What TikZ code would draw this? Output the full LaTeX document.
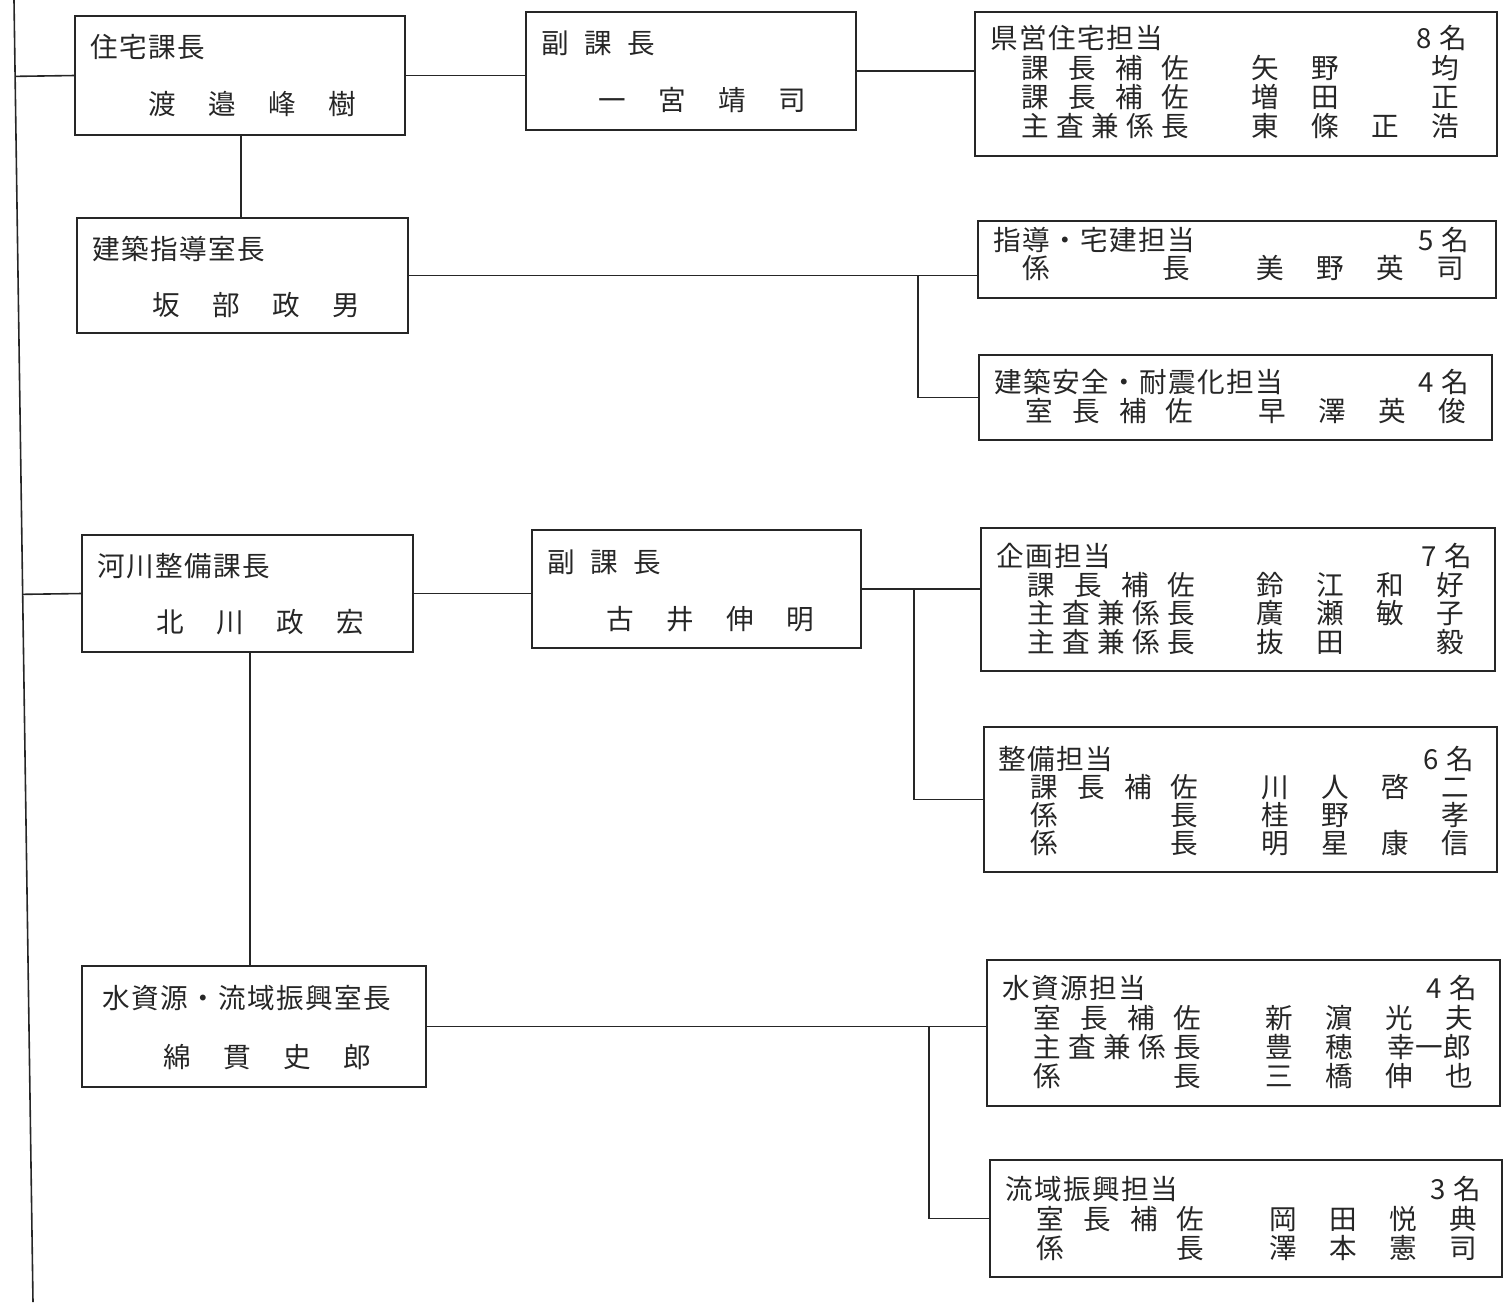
\documentclass[tikz,border=0pt]{standalone}
\usepackage{fontspec}
\usetikzlibrary{calc}
\newfontfamily\jp{Noto Sans CJK JP}
\newcommand\spr[2]{\makebox[#1][s]{#2}}
\newcommand\nmx[4]{\makebox[30pt]{#1}\makebox[30pt]{#2}\makebox[30pt]{#3}\makebox[30pt]{#4}}
\newcommand\cn[1]{#1\hspace{4pt}名}
\begin{document}
\begin{tikzpicture}[x=0.5pt,y=-0.5pt,
  box/.style={draw=black!85,line width=1pt,inner sep=0,outer sep=0},
  link/.style={draw=black!85,line width=0.8pt},
  txt/.style={inner sep=0,anchor=west,font={\jp\fontsize{13.8pt}{16pt}\selectfont},text=black!85},
  ttl/.style={txt,font={\jp\fontsize{13.8pt}{16pt}\selectfont\addfontfeature{LetterSpace=5}}},
  cnt/.style={txt,anchor=east}]
\useasboundingbox (0,0) rectangle (1505,1302);
% boxes
\node[box,minimum width=165pt,minimum height=59.5pt] (b1) at (240,75.5) {};
\node[box,minimum width=165pt,minimum height=59pt] (b2) at (691,71) {};
\node[box,minimum width=261pt,minimum height=72pt] (b3) at (1236,84) {};
\node[box,minimum width=165.5pt,minimum height=57.5pt] (b4) at (242.5,275.5) {};
\node[box,minimum width=259pt,minimum height=38.5pt] (b5) at (1237,259.5) {};
\node[box,minimum width=256.5pt,minimum height=42.5pt] (b6) at (1235.5,397.5) {};
\node[box,minimum width=165.5pt,minimum height=58.5pt] (b7) at (247.5,593.5) {};
\node[box,minimum width=164.5pt,minimum height=59pt] (b8) at (696.5,589) {};
\node[box,minimum width=257pt,minimum height=71.5pt] (b9) at (1238,599.5) {};
\node[box,minimum width=256.5pt,minimum height=72.5pt] (b10) at (1240.5,799.5) {};
\node[box,minimum width=172pt,minimum height=60.5pt] (b11) at (254,1026.5) {};
\node[box,minimum width=256.5pt,minimum height=73pt] (b12) at (1243.5,1033) {};
\node[box,minimum width=256pt,minimum height=58.5pt] (b13) at (1246,1218.5) {};
% connectors
\coordinate (t0) at (14,0);
\coordinate (t1) at (33,1302);
\draw[link] (t0) -- (t1);
\draw[link] (b1.west) -- ($(t0)!(b1.west)!(t1)$);
\draw[link] (b7.west) -- ($(t0)!(b7.west)!(t1)$);
\draw[link] (b1.east) -- (b1.east -| b2.west);
\draw[link] (b2.east) -- (b2.east -| b3.west);
\coordinate (v1) at (241,0);
\draw[link] (v1 |- b1.south) -- (v1 |- b4.north);
\draw[link] (b4.east) -- (b4.east -| b5.west);
\coordinate (j1) at (918,0);
\draw[link] (j1 |- b4.east) -- (j1 |- b6.west) -- (b6.west);
\draw[link] (b7.east) -- (b7.east -| b8.west);
\draw[link] (b8.east) -- (b8.east -| b9.west);
\coordinate (j2) at (914,0);
\draw[link] (j2 |- b8.east) -- (j2 |- b10.west) -- (b10.west);
\coordinate (v2) at (250,0);
\draw[link] (v2 |- b7.south) -- (v2 |- b11.north);
\draw[link] (b11.east) -- (b11.east -| b12.west);
\coordinate (j3) at (929,0);
\draw[link] (j3 |- b11.east) -- (j3 |- b13.west) -- (b13.west);
% left column texts
\node[ttl] (b1t) at (90,47) {住宅課長};
\node[txt] (b1n) at (132,104) {\nmx{渡}{邉}{峰}{樹}};
\node[txt] (b2t) at (541,43) {\spr{57pt}{副\hfill 課\hfill 長}};
\node[txt] (b2n) at (582,100) {\nmx{一}{宮}{靖}{司}};
\node[ttl] (b4t) at (92,249) {建築指導室長};
\node[txt] (b4n) at (136,305) {\nmx{坂}{部}{政}{男}};
\node[ttl] (b7t) at (97,566) {河川整備課長};
\node[txt] (b7n) at (140,622) {\nmx{北}{川}{政}{宏}};
\node[txt] (b8t) at (547,562) {\spr{57pt}{副\hfill 課\hfill 長}};
\node[txt] (b8n) at (590,619) {\nmx{古}{井}{伸}{明}};
\node[ttl] (b11t) at (102,998) {水資源・流域振興室長};
\node[txt] (b11n) at (147,1057) {\nmx{綿}{貫}{史}{郎}};
% box 3
\node[ttl] (b3t) at (990,38) {県営住宅担当};
\node[cnt] (b3c) at (1468,38) {\cn{8}};
\node[txt] (b3p1) at (1021,68) {\spr{84pt}{課\hfill 長\hfill 補\hfill 佐}};
\node[txt] (b3n1) at (1235,68) {\nmx{矢}{野}{}{均}};
\node[txt] (b3p2) at (1021,97) {\spr{84pt}{課\hfill 長\hfill 補\hfill 佐}};
\node[txt] (b3n2) at (1235,97) {\nmx{増}{田}{}{正}};
\node[txt] (b3p3) at (1021,126) {\spr{84pt}{主\hfill 査\hfill 兼\hfill 係\hfill 長}};
\node[txt] (b3n3) at (1235,126) {\nmx{東}{條}{正}{浩}};
% box 5
\node[ttl] (b5t) at (993,240) {指導・宅建担当};
\node[cnt] (b5c) at (1470,240) {\cn{5}};
\node[txt] (b5p1) at (1022,268) {\spr{84pt}{係\hfill 長}};
\node[txt] (b5n1) at (1240,268) {\nmx{美}{野}{英}{司}};
% box 6
\node[ttl] (b6t) at (994,382) {建築安全・耐震化担当};
\node[cnt] (b6c) at (1470,382) {\cn{4}};
\node[txt] (b6p1) at (1025,411) {\spr{84pt}{室\hfill 長\hfill 補\hfill 佐}};
\node[txt] (b6n1) at (1242,411) {\nmx{早}{澤}{英}{俊}};
% box 9
\node[ttl] (b9t) at (996,556) {企画担当};
\node[cnt] (b9c) at (1473,556) {\cn{7}};
\node[txt] (b9p1) at (1027,585) {\spr{84pt}{課\hfill 長\hfill 補\hfill 佐}};
\node[txt] (b9n1) at (1240,585) {\nmx{鈴}{江}{和}{好}};
\node[txt] (b9p2) at (1027,613) {\spr{84pt}{主\hfill 査\hfill 兼\hfill 係\hfill 長}};
\node[txt] (b9n2) at (1240,613) {\nmx{廣}{瀬}{敏}{子}};
\node[txt] (b9p3) at (1027,642) {\spr{84pt}{主\hfill 査\hfill 兼\hfill 係\hfill 長}};
\node[txt] (b9n3) at (1240,642) {\nmx{抜}{田}{}{毅}};
% box 10
\node[ttl] (b10t) at (998,759) {整備担当};
\node[cnt] (b10c) at (1475,759) {\cn{6}};
\node[txt] (b10p1) at (1030,787) {\spr{84pt}{課\hfill 長\hfill 補\hfill 佐}};
\node[txt] (b10n1) at (1245,787) {\nmx{川}{人}{啓}{二}};
\node[txt] (b10p2) at (1030,815) {\spr{84pt}{係\hfill 長}};
\node[txt] (b10n2) at (1245,815) {\nmx{桂}{野}{}{孝}};
\node[txt] (b10p3) at (1030,843) {\spr{84pt}{係\hfill 長}};
\node[txt] (b10n3) at (1245,843) {\nmx{明}{星}{康}{信}};
% box 12
\node[ttl] (b12t) at (1002,988) {水資源担当};
\node[cnt] (b12c) at (1478,988) {\cn{4}};
\node[txt] (b12p1) at (1033,1018) {\spr{84pt}{室\hfill 長\hfill 補\hfill 佐}};
\node[txt] (b12n1) at (1249,1018) {\nmx{新}{濵}{光}{夫}};
\node[txt] (b12p2) at (1033,1047) {\spr{84pt}{主\hfill 査\hfill 兼\hfill 係\hfill 長}};
\node[txt] (b12n2) at (1249,1047) {\makebox[30pt]{豊}\makebox[30pt]{穂}\makebox[60pt]{幸一郎}};
\node[txt] (b12p3) at (1033,1076) {\spr{84pt}{係\hfill 長}};
\node[txt] (b12n3) at (1249,1076) {\nmx{三}{橋}{伸}{也}};
% box 13
\node[ttl] (b13t) at (1005,1189) {流域振興担当};
\node[cnt] (b13c) at (1482,1189) {\cn{3}};
\node[txt] (b13p1) at (1036,1219) {\spr{84pt}{室\hfill 長\hfill 補\hfill 佐}};
\node[txt] (b13n1) at (1253,1219) {\nmx{岡}{田}{悦}{典}};
\node[txt] (b13p2) at (1036,1248) {\spr{84pt}{係\hfill 長}};
\node[txt] (b13n2) at (1253,1248) {\nmx{澤}{本}{憲}{司}};
\end{tikzpicture}
\end{document}
